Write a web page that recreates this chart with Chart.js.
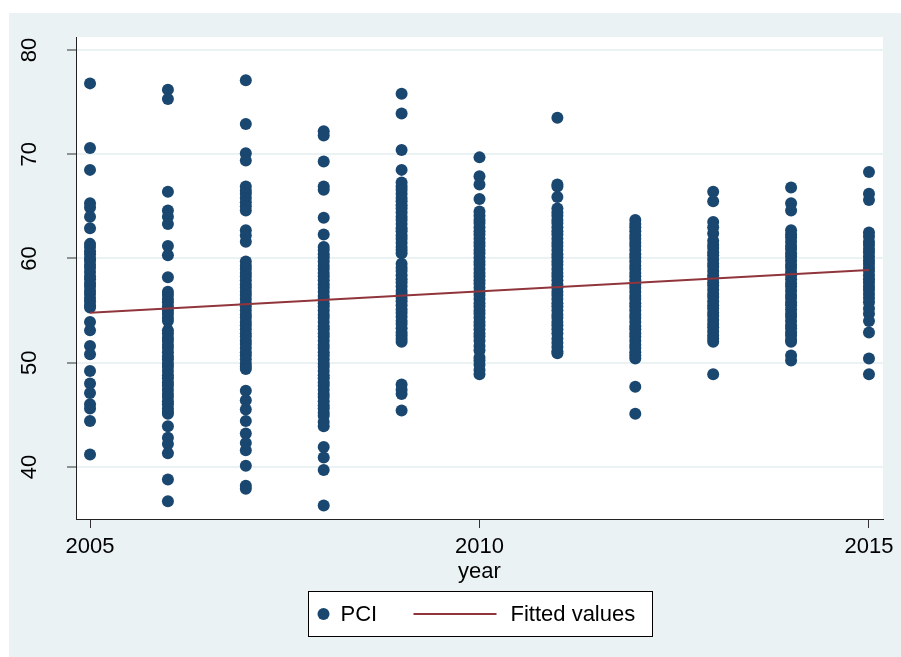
<!DOCTYPE html>
<html>
<head>
<meta charset="utf-8">
<script src="https://cdn.jsdelivr.net/npm/chart.js@4.4.1/dist/chart.umd.min.js"></script>
<style>
  html, body { margin: 0; padding: 0; background: #fff; }
  #wrap { width: 901px; height: 657px; position: relative; }
</style>
</head>
<body>
<div id="wrap"><canvas id="pci" width="901" height="657"></canvas></div>
<script>
// PCI values by year
const years = [2005, 2006, 2007, 2008, 2009, 2010, 2011, 2012, 2013, 2014, 2015];
const pci2005 = [76.8, 70.6, 68.5, 65.3, 64.9, 64.0, 62.9, 61.4, 61.1, 60.7, 60.4, 60.0, 59.8, 59.4, 59.1, 58.7, 58.3, 58.0, 57.6, 57.3, 56.9, 56.6, 56.2, 55.9, 55.5, 55.3, 53.9, 53.1, 51.6, 50.8, 49.2, 48.0, 47.1, 46.0, 45.6, 44.4, 41.2];
const pci2006 = [76.2, 75.3, 66.4, 64.6, 64.0, 63.3, 61.2, 60.3, 58.2, 56.8, 56.5, 56.1, 55.8, 55.4, 55.0, 54.7, 54.3, 54.0, 53.1, 52.8, 52.4, 52.1, 51.7, 51.4, 51.0, 50.6, 50.3, 49.9, 49.6, 49.2, 48.8, 48.5, 48.1, 47.8, 47.4, 47.0, 46.7, 46.3, 46.0, 45.6, 45.3, 45.1, 43.9, 42.8, 42.2, 41.3, 38.8, 36.7];
const pci2007 = [77.1, 72.9, 70.1, 69.4, 66.9, 66.5, 66.2, 65.8, 65.4, 65.0, 64.6, 62.7, 62.2, 61.6, 59.7, 59.3, 59.0, 58.6, 58.3, 57.9, 57.5, 57.2, 56.8, 56.5, 56.1, 55.7, 55.4, 55.0, 54.6, 54.3, 53.9, 53.6, 53.2, 52.8, 52.5, 52.1, 51.8, 51.4, 51.0, 50.7, 50.3, 49.9, 49.6, 49.4, 47.3, 46.4, 45.5, 44.4, 43.2, 42.3, 41.6, 40.1, 38.2, 37.9];
const pci2008 = [72.2, 71.8, 69.3, 66.9, 66.6, 63.9, 62.3, 61.1, 60.8, 60.4, 60.1, 59.7, 59.3, 59.0, 58.6, 58.3, 57.9, 57.5, 57.2, 56.8, 56.4, 56.1, 55.7, 55.4, 55.0, 54.6, 54.3, 53.9, 53.5, 53.2, 52.8, 52.5, 52.1, 51.7, 51.4, 51.0, 50.7, 50.3, 49.9, 49.6, 49.2, 48.8, 48.5, 48.1, 47.8, 47.4, 47.0, 46.7, 46.3, 45.9, 45.6, 45.2, 44.9, 44.3, 43.9, 41.9, 40.9, 39.7, 36.3];
const pci2009 = [75.8, 73.9, 70.4, 68.5, 67.3, 66.9, 66.6, 66.2, 65.8, 65.5, 65.1, 64.8, 64.4, 64.0, 63.7, 63.3, 62.9, 62.6, 62.2, 61.9, 61.5, 61.1, 60.8, 60.5, 59.5, 59.1, 58.8, 58.4, 58.0, 57.7, 57.3, 56.9, 56.6, 56.2, 55.9, 55.5, 55.1, 54.8, 54.4, 54.0, 53.7, 53.3, 52.9, 52.6, 52.3, 52.0, 47.9, 47.4, 47.0, 45.4];
const pci2010 = [69.7, 67.9, 67.1, 65.7, 64.5, 64.1, 63.7, 63.4, 63.0, 62.6, 62.3, 61.9, 61.5, 61.2, 60.8, 60.5, 60.1, 59.7, 59.4, 59.0, 58.6, 58.3, 57.9, 57.6, 57.2, 56.8, 56.5, 56.1, 55.7, 55.4, 55.0, 54.7, 54.3, 53.9, 53.6, 53.2, 52.8, 52.5, 52.1, 51.6, 51.2, 50.5, 50.2, 49.8, 49.3, 48.9];
const pci2011 = [73.5, 67.1, 66.9, 65.9, 64.8, 64.4, 64.1, 63.7, 63.4, 63.0, 62.6, 62.3, 61.9, 61.5, 61.2, 60.8, 60.4, 60.1, 59.7, 59.4, 59.0, 58.6, 58.3, 57.9, 57.5, 57.2, 56.8, 56.5, 56.1, 55.7, 55.4, 55.0, 54.6, 54.3, 53.9, 53.6, 53.2, 52.8, 52.3, 51.9, 51.5, 51.1, 50.9];
const pci2012 = [63.7, 63.3, 63.0, 62.6, 62.2, 61.9, 61.5, 61.2, 60.8, 60.4, 60.1, 59.7, 59.3, 59.0, 58.6, 58.3, 57.9, 57.5, 57.2, 56.8, 56.4, 56.1, 55.7, 55.4, 55.0, 54.6, 54.3, 53.9, 53.5, 53.2, 52.8, 52.5, 52.1, 51.7, 51.4, 51.0, 50.7, 50.4, 47.7, 45.1];
const pci2013 = [66.4, 65.5, 63.5, 63.0, 62.4, 61.7, 61.3, 61.0, 60.6, 60.3, 59.9, 59.5, 59.2, 58.8, 58.4, 58.1, 57.7, 57.4, 57.0, 56.6, 56.3, 55.9, 55.5, 55.2, 54.8, 54.5, 54.1, 53.7, 53.4, 53.0, 52.6, 52.3, 52.0, 48.9];
const pci2014 = [66.8, 65.3, 64.6, 62.7, 62.3, 62.0, 61.6, 61.2, 60.9, 60.5, 60.2, 59.8, 59.4, 59.1, 58.7, 58.4, 58.0, 57.6, 57.3, 56.9, 56.5, 56.2, 55.8, 55.5, 55.1, 54.7, 54.4, 54.0, 53.6, 53.3, 52.9, 52.6, 52.2, 52.0, 50.7, 50.2];
const pci2015 = [68.3, 66.2, 65.6, 62.5, 62.1, 61.6, 61.3, 60.9, 60.6, 60.2, 59.8, 59.5, 59.1, 58.8, 58.4, 58.0, 57.7, 57.3, 57.0, 56.6, 56.2, 55.8, 55.2, 54.7, 54.0, 52.9, 50.4, 48.9];
const pciByYear = [pci2005, pci2006, pci2007, pci2008, pci2009, pci2010, pci2011, pci2012, pci2013, pci2014, pci2015];

// fitted line, read at both ends
const fitYears = [2005, 2015];
const fitValues = [54.8, 58.9];

const xTicks = [2005, 2010, 2015];
const yTicks = [40, 50, 60, 70, 80];

const navy = '#1a476f';
const maroon = '#90353b';
const bgBlue = '#eaf2f3';
const FONT = "'Liberation Sans', Arial, sans-serif";

const pciPoints = [];
years.forEach((yr, i) => pciByYear[i].forEach(v => pciPoints.push({ x: yr, y: v })));
const fitPoints = fitYears.map((yr, i) => ({ x: yr, y: fitValues[i] }));

const stataFrame = {
    id: 'stataFrame',
    beforeDraw(chart) {
        const { ctx, chartArea: a } = chart;
        ctx.save();
        ctx.fillStyle = bgBlue;
        ctx.fillRect(9, 13, chart.width - 9, chart.height - 13);
        ctx.fillStyle = '#fff';
        ctx.fillRect(a.left, a.top, a.right - a.left, a.bottom - a.top);
        ctx.restore();
    },
    afterDraw(chart) {
        const { ctx, chartArea: a } = chart;
        const cx = (a.left + a.right) / 2;
        const w = 344, h = 45;
        const left = Math.round(cx - w / 2) + 0.5, top = a.bottom + 72.5;
        ctx.save();
        ctx.fillStyle = '#fff';
        ctx.fillRect(left, top, w, h);
        ctx.strokeStyle = '#000';
        ctx.lineWidth = 1;
        ctx.strokeRect(left, top, w, h);
        const my = top + h / 2;
        ctx.fillStyle = navy;
        ctx.beginPath();
        ctx.arc(left + 15, my, 6, 0, Math.PI * 2);
        ctx.fill();
        ctx.strokeStyle = maroon;
        ctx.lineWidth = 2;
        ctx.beginPath();
        ctx.moveTo(left + 105, my);
        ctx.lineTo(left + 188, my);
        ctx.stroke();
        ctx.fillStyle = '#000';
        ctx.font = '22px ' + FONT;
        ctx.textBaseline = 'middle';
        ctx.fillText('PCI', left + 32, my + 1);
        ctx.fillText('Fitted values', left + 202, my + 1);
        ctx.restore();
    }
};

new Chart(document.getElementById('pci'), {
    type: 'scatter',
    data: {
        datasets: [{
            label: 'PCI',
            data: pciPoints,
            backgroundColor: navy,
            borderWidth: 0,
            pointRadius: 6,
            pointHoverRadius: 6,
            order: 1
        }, {
            type: 'line',
            label: 'Fitted values',
            data: fitPoints,
            borderColor: maroon,
            borderWidth: 2,
            pointRadius: 0,
            fill: false,
            order: 0
        }]
    },
    options: {
        responsive: false,
        animation: false,
        devicePixelRatio: 1,
        layout: { padding: { left: 9, top: 37, right: 18, bottom: 68 } },
        plugins: { legend: { display: false }, tooltip: { enabled: false } },
        scales: {
            x: {
                type: 'linear',
                min: 2004.82,
                max: 2015.18,
                afterBuildTicks: s => { s.ticks = xTicks.map(v => ({ value: v })); },
                afterFit: s => { s.height = 70; s.paddingLeft = 0; s.paddingRight = 0; },
                grid: { drawOnChartArea: false, tickLength: 9, tickColor: '#333', tickWidth: 1 },
                border: { color: '#222', width: 1 },
                ticks: { color: '#000', font: { family: FONT, size: 22 }, padding: 6, maxRotation: 0, callback: v => String(v) },
                title: { display: true, text: 'year', color: '#000', font: { family: FONT, size: 22 }, padding: { top: 0, bottom: 4 } }
            },
            y: {
                min: 35,
                max: 81.25,
                afterBuildTicks: s => { s.ticks = yTicks.map(v => ({ value: v })); },
                afterFit: s => { s.width = 67; s.paddingTop = 0; s.paddingBottom = 0; },
                grid: { color: bgBlue, lineWidth: 2, tickLength: 9, tickColor: '#333', tickWidth: 1 },
                border: { color: '#222', width: 1 },
                ticks: { color: '#000', font: { family: FONT, size: 22 }, minRotation: 90, maxRotation: 90, crossAlign: 'center', padding: 25, callback: v => String(v) }
            }
        }
    },
    plugins: [stataFrame]
});
</script>
</body>
</html>
